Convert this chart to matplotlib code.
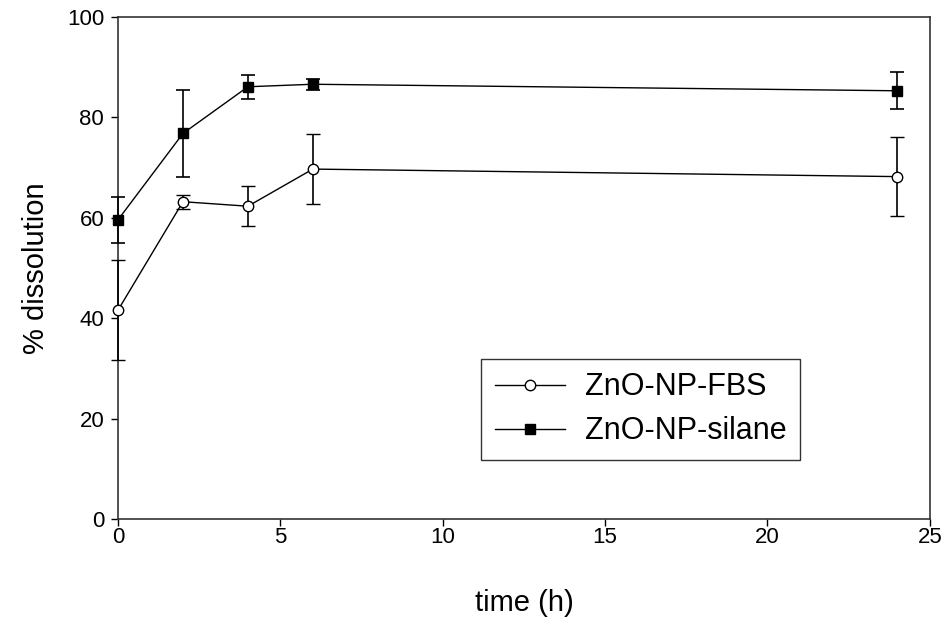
import matplotlib.pyplot as plt

plt.rcParams['font.family'] = ['Liberation Sans', 'DejaVu Sans']

# Dissolution over time for the two coatings
time_h = [0, 2, 4, 6, 24]
fbs = [41.6, 63.2, 62.3, 69.7, 68.2]
fbs_err = [10.0, 1.4, 4.0, 7.0, 7.8]
silane = [59.6, 76.8, 86.1, 86.6, 85.3]
silane_err = [4.6, 8.7, 2.4, 1.1, 3.7]

fig = plt.figure(figsize=(9.42, 6.2), dpi=100)
ax = fig.add_axes([0.1253, 0.163, 0.8617, 0.8096])

ax.errorbar(time_h, fbs, yerr=fbs_err, fmt='-o', color='black', lw=1,
            mfc='white', mec='black', mew=1, ms=7.5, capsize=5, elinewidth=1.2,
            capthick=1.2, label='ZnO-NP-FBS', clip_on=False, zorder=3)
ax.errorbar(time_h, silane, yerr=silane_err, fmt='-s', color='black', lw=1,
            mfc='black', mec='black', ms=7.5, capsize=5, elinewidth=1.2,
            capthick=1.2, label='ZnO-NP-silane', clip_on=False, zorder=4)

ax.set_xlim(0, 25)
ax.set_ylim(0, 100)
ax.set_xticks([0, 5, 10, 15, 20, 25])
ax.set_yticks([0, 20, 40, 60, 80, 100])
ax.tick_params(direction='out', length=5, width=1, labelsize=16)
ax.tick_params(axis='x', pad=0.5)
ax.tick_params(axis='y', pad=5)

for s in ax.spines.values():
    s.set_color('#333333')
    s.set_linewidth(1.2)

ax.set_xlabel('time (h)', fontsize=21, labelpad=30)
ax.set_ylabel('% dissolution', fontsize=21, labelpad=12)

handles, labels = ax.get_legend_handles_labels()
handles = [h[0] for h in handles]
leg = ax.legend(handles, labels, loc='lower left', bbox_to_anchor=(0.447, 0.1175),
                fontsize=22, frameon=True, fancybox=False, handlelength=2.3,
                borderpad=0.45, labelspacing=0.45, handletextpad=0.65,
                borderaxespad=0)
leg.get_frame().set_edgecolor('black')
leg.get_frame().set_linewidth(1)

fig.savefig('out.png', dpi=100)
